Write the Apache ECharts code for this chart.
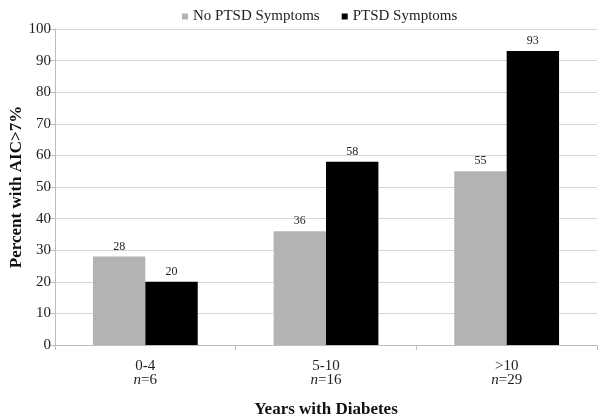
<!DOCTYPE html>
<html>
<head>
<meta charset="utf-8">
<script src="https://cdn.jsdelivr.net/npm/echarts@6/dist/echarts.min.js"></script>
<style>html,body{margin:0;padding:0;background:#fff}#c{width:600px;height:418px}</style>
</head>
<body>
<div id="c"></div>
<script>
const categories = ['0-4', '5-10', '>10'];
const nLabels = ['6', '16', '29'];
const noPtsd = [28, 36, 55];
const ptsd = [20, 58, 93];
const seriesNames = ['No PTSD Symptoms', 'PTSD Symptoms'];
const yTicks = { min: 0, max: 100, interval: 10 };

const FONT = '"Liberation Serif", "Times New Roman", serif';
const chart = echarts.init(document.getElementById('c'), null, { renderer: 'canvas' });
const labelStyle = { show: true, position: 'top', distance: 4, fontFamily: FONT, fontSize: 12, color: '#222' };
chart.setOption({
  animation: false,
  backgroundColor: '#fff',
  textStyle: { fontFamily: FONT },
  legend: {
    top: 4, left: 177, itemWidth: 6, itemHeight: 6, itemGap: 22,
    icon: 'rect',
    textStyle: { fontFamily: FONT, fontSize: 15, color: '#222' },
    data: seriesNames
  },
  grid: { left: 55, right: 3, top: 29, bottom: 73, containLabel: false, outerBoundsMode: 'none' },
  xAxis: {
    type: 'category',
    data: categories.map((c, i) => c + '|' + nLabels[i]),
    name: 'Years with Diabetes',
    nameLocation: 'middle',
    nameGap: 56,
    nameMoveOverlap: false,
    nameTextStyle: { fontFamily: FONT, fontSize: 17, fontWeight: 'bold', color: '#111' },
    axisLine: { lineStyle: { color: '#bdbdbd', width: 1 } },
    axisTick: { show: true, length: 5, lineStyle: { color: '#bdbdbd' } },
    axisLabel: {
      margin: 14,
      formatter: function (v) { const p = v.split('|'); return '{a|' + p[0] + '}\n{i|n}{a|=' + p[1] + '}'; },
      rich: {
        a: { fontFamily: FONT, fontSize: 15, color: '#222', lineHeight: 14 },
        i: { fontFamily: FONT, fontSize: 15, fontStyle: 'italic', color: '#222', lineHeight: 14 }
      }
    }
  },
  yAxis: {
    type: 'value',
    min: yTicks.min, max: yTicks.max, interval: yTicks.interval,
    name: 'Percent with AIC>7%',
    nameLocation: 'middle',
    nameGap: 30,
    nameMoveOverlap: false,
    nameTextStyle: { fontFamily: FONT, fontSize: 17, fontWeight: 'bold', color: '#111' },
    axisLine: { show: true, lineStyle: { color: '#bdbdbd', width: 1 } },
    axisTick: { show: true, length: 5, lineStyle: { color: '#bdbdbd' } },
    axisLabel: { margin: 4, fontFamily: FONT, fontSize: 15, color: '#222' },
    splitLine: { lineStyle: { color: '#d6d6d6', width: 1 } }
  },
  series: [
    { name: seriesNames[0], type: 'bar', data: noPtsd, barGap: '0%', barCategoryGap: '42%',
      itemStyle: { color: '#b3b3b3' }, label: labelStyle },
    { name: seriesNames[1], type: 'bar', data: ptsd, barGap: '0%', barCategoryGap: '42%',
      itemStyle: { color: '#000000' }, label: labelStyle }
  ]
});
</script>
</body>
</html>
